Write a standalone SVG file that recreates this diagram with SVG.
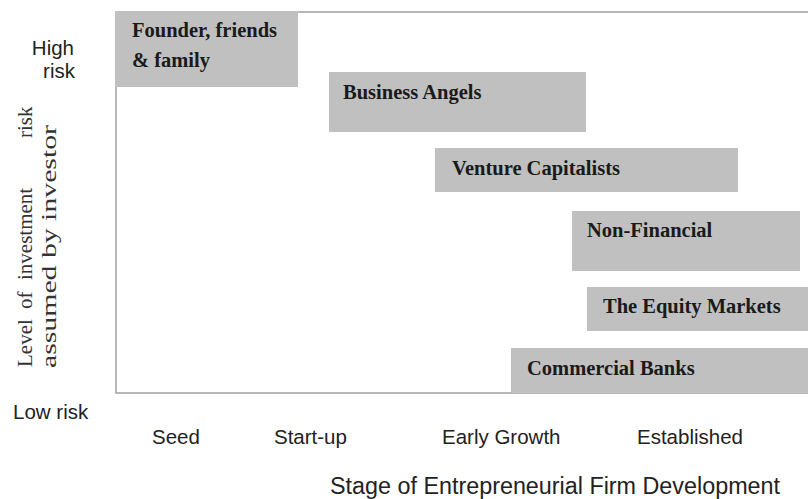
<svg xmlns="http://www.w3.org/2000/svg" width="808" height="499" viewBox="0 0 808 499">
<style>
.box{fill:#c0c0c0;}
.lbl{font-family:"Liberation Serif","Times New Roman",serif;font-weight:bold;font-size:20.5px;fill:#1a1a1a;}
.ax{font-family:"Liberation Sans",Arial,sans-serif;font-size:20.5px;fill:#222;}
.vt{font-family:"Liberation Serif","Times New Roman",serif;font-size:21px;fill:#333;}
.frame{fill:none;stroke:#a0a0a0;stroke-width:1.5;}
</style>
<rect width="808" height="499" fill="#ffffff"/>
<g id="frame">
<path class="frame" d="M808,12 H116 V393 H808"/>
</g>
<g id="founder">
<rect class="box" x="115" y="11" width="183" height="76"/>
<text class="lbl" x="132" y="37">Founder, friends</text>
<text class="lbl" x="132" y="67">&amp; family</text>
</g>
<g id="business-angels">
<rect class="box" x="329" y="72" width="257" height="60"/>
<text class="lbl" x="343" y="99">Business Angels</text>
</g>
<g id="venture-capitalists">
<rect class="box" x="435" y="148" width="303" height="44"/>
<text class="lbl" x="452" y="175">Venture Capitalists</text>
</g>
<g id="non-financial">
<rect class="box" x="572" y="211" width="228" height="60"/>
<text class="lbl" x="587" y="237">Non-Financial</text>
</g>
<g id="equity-markets">
<rect class="box" x="587" y="287" width="221" height="44"/>
<text class="lbl" x="603" y="313">The Equity Markets</text>
</g>
<g id="commercial-banks">
<rect class="box" x="511" y="348" width="297" height="45"/>
<text class="lbl" x="527" y="375">Commercial Banks</text>
</g>
<g id="connectors"></g>
<g id="y-axis">
<text class="ax" x="74" y="55" text-anchor="end">High</text>
<text class="ax" x="75" y="78" text-anchor="end">risk</text>
<text class="ax" x="13" y="419">Low risk</text>
<g transform="rotate(-90)">
<text class="vt" y="32"><tspan x="-367">Level</tspan><tspan x="-309">of</tspan><tspan x="-280">investment</tspan><tspan x="-138">risk</tspan></text>
<text class="vt" x="-368" y="56" textLength="243" lengthAdjust="spacingAndGlyphs">assumed by investor</text>
</g>
</g>
<g id="x-axis">
<text class="ax" x="152" y="444">Seed</text>
<text class="ax" x="274" y="444">Start-up</text>
<text class="ax" x="442" y="444">Early Growth</text>
<text class="ax" x="637" y="444">Established</text>
<text class="ax" x="330" y="494" style="font-size:23px" textLength="450" lengthAdjust="spacingAndGlyphs">Stage of Entrepreneurial Firm Development</text>
</g>
</svg>
